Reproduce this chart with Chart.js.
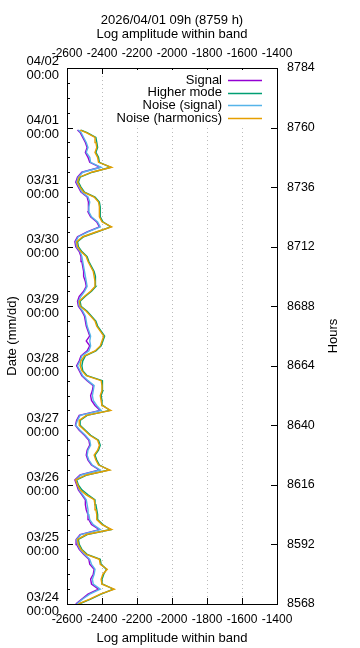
<!DOCTYPE html>
<html>
<head>
<meta charset="utf-8">
<script src="https://cdn.jsdelivr.net/npm/chart.js@4.4.1/dist/chart.umd.min.js"></script>
<style>
  body { margin: 0; background: #fff; }
  canvas { display: block; }
</style>
</head>
<body>
<canvas id="myChart" width="360" height="648"></canvas>
<script>
// hours of the year (y axis)
const hours = [8568, 8570, 8572, 8574, 8576, 8578, 8580, 8582, 8584, 8586,
  8588, 8590, 8592, 8594, 8596, 8598, 8600, 8602, 8604, 8606,
  8608, 8610, 8612, 8614, 8616, 8618, 8620, 8622, 8624, 8626,
  8628, 8630, 8632, 8634, 8636, 8638, 8640, 8642, 8644, 8646,
  8648, 8650, 8652, 8654, 8656, 8658, 8660, 8662, 8664, 8666,
  8668, 8670, 8672, 8674, 8676, 8678, 8680, 8682, 8684, 8686,
  8688, 8690, 8692, 8694, 8696, 8698, 8700, 8702, 8704, 8706,
  8708, 8710, 8712, 8714, 8716, 8718, 8720, 8722, 8724, 8726,
  8728, 8730, 8732, 8734, 8736, 8738, 8740, 8742, 8744, 8746,
  8748, 8750, 8752, 8754, 8756, 8758, 8759];

const signal = [-2550, -2515, -2480, -2420, -2460, -2465, -2450, -2445, -2470, -2475,
  -2505, -2530, -2545, -2548, -2525, -2415, -2460, -2475, -2480, -2490,
  -2495, -2495, -2515, -2535, -2545, -2555, -2525, -2415, -2460, -2480,
  -2490, -2485, -2470, -2475, -2500, -2530, -2552, -2545, -2530, -2410,
  -2440, -2460, -2465, -2455, -2450, -2485, -2515, -2530, -2545, -2530,
  -2520, -2485, -2470, -2490, -2470, -2480, -2490, -2495, -2500, -2515,
  -2535, -2540, -2530, -2505, -2490, -2495, -2505, -2505, -2510, -2515,
  -2520, -2530, -2550, -2555, -2540, -2485, -2415, -2430, -2465, -2480,
  -2480, -2475, -2485, -2520, -2535, -2550, -2540, -2515, -2410, -2470,
  -2480, -2495, -2485, -2495, -2510, -2525, -2540];

const higherMode = [-2530, -2465, -2405, -2335, -2395, -2400, -2390, -2375, -2405, -2410,
  -2485, -2515, -2530, -2535, -2485, -2350, -2395, -2425, -2425, -2430,
  -2435, -2440, -2480, -2515, -2535, -2545, -2485, -2360, -2415, -2430,
  -2440, -2420, -2410, -2420, -2465, -2495, -2525, -2525, -2485, -2355,
  -2395, -2400, -2405, -2395, -2395, -2400, -2485, -2510, -2515, -2510,
  -2495, -2435, -2405, -2395, -2385, -2405, -2425, -2435, -2460, -2485,
  -2520, -2525, -2495, -2460, -2435, -2435, -2440, -2445, -2460, -2475,
  -2485, -2515, -2535, -2540, -2505, -2425, -2350, -2395, -2410, -2410,
  -2410, -2415, -2440, -2500, -2520, -2535, -2525, -2455, -2350, -2415,
  -2420, -2435, -2425, -2430, -2435, -2485, -2520];

const noiseSignal = [-2545, -2510, -2470, -2410, -2450, -2455, -2445, -2440, -2460, -2470,
  -2500, -2525, -2540, -2545, -2520, -2410, -2450, -2470, -2475, -2480,
  -2485, -2490, -2510, -2530, -2540, -2550, -2520, -2410, -2455, -2475,
  -2485, -2480, -2465, -2470, -2495, -2525, -2550, -2540, -2525, -2405,
  -2430, -2450, -2455, -2450, -2445, -2480, -2510, -2525, -2540, -2525,
  -2515, -2475, -2465, -2470, -2465, -2475, -2485, -2490, -2495, -2510,
  -2530, -2535, -2520, -2500, -2485, -2490, -2495, -2500, -2505, -2510,
  -2515, -2525, -2545, -2550, -2535, -2480, -2410, -2425, -2460, -2475,
  -2475, -2470, -2480, -2515, -2530, -2545, -2535, -2510, -2405, -2465,
  -2470, -2490, -2480, -2490, -2505, -2520, -2535];

const noiseHarmonics = [-2535, -2470, -2410, -2330, -2400, -2405, -2395, -2370, -2410, -2415,
  -2490, -2520, -2535, -2540, -2490, -2345, -2400, -2430, -2430, -2435,
  -2440, -2445, -2490, -2525, -2540, -2550, -2490, -2355, -2420, -2435,
  -2445, -2425, -2415, -2425, -2470, -2500, -2530, -2530, -2490, -2350,
  -2400, -2405, -2410, -2400, -2400, -2405, -2490, -2515, -2525, -2520,
  -2500, -2440, -2410, -2400, -2390, -2410, -2430, -2440, -2465, -2490,
  -2525, -2530, -2500, -2465, -2440, -2440, -2445, -2450, -2465, -2480,
  -2490, -2520, -2540, -2545, -2510, -2430, -2345, -2400, -2415, -2415,
  -2415, -2420, -2445, -2505, -2525, -2540, -2530, -2460, -2345, -2420,
  -2425, -2440, -2430, -2435, -2440, -2490, -2525];

const seriesNames = ["Signal", "Higher mode", "Noise (signal)", "Noise (harmonics)"];
const seriesColors = ["#9400d3", "#009e73", "#56b4e9", "#e69f00"];
const xTicks = [-2600, -2400, -2200, -2000, -1800, -1600, -1400];
const hourTicks = [8568, 8592, 8616, 8640, 8664, 8688, 8712, 8736, 8760, 8784];
const dateTicks = ["03/24", "03/25", "03/26", "03/27", "03/28", "03/29", "03/30", "03/31", "04/01", "04/02"];
const titleText = "2026/04/01 09h (8759 h)";
const xTitle = "Log amplitude within band";

Chart.defaults.font.family = "'Liberation Sans', Arial, sans-serif";
Chart.defaults.font.size = 13;
Chart.defaults.color = "#000";

const allSeries = [signal, higherMode, noiseSignal, noiseHarmonics];
const datasets = allSeries.map((vals, i) => ({
  label: seriesNames[i],
  data: vals.map((v, k) => ({ x: v, y: hours[k] })),
  borderColor: seriesColors[i],
  borderWidth: 1.4,
  pointRadius: 0,
  showLine: true,
  fill: false,
  tension: 0,
  order: 3 - i, // later series on top, like gnuplot
}));

// gnuplot style: box, inward ticks, opaque key, y2 label
const frame = {
  id: "frame",
  afterDatasetsDraw(chart) {
    const ctx = chart.ctx;
    const a = chart.chartArea;
    const sx = chart.scales.x, sy = chart.scales.y;
    ctx.save();
    ctx.strokeStyle = "#000";
    ctx.lineWidth = 1;
    ctx.beginPath();
    xTicks.forEach(v => {
      const px = Math.round(sx.getPixelForValue(v)) + 0.5;
      ctx.moveTo(px, a.bottom); ctx.lineTo(px, a.bottom - 6);
      ctx.moveTo(px, a.top); ctx.lineTo(px, a.top + 6);
    });
    for (let h = hourTicks[0]; h <= hourTicks[hourTicks.length - 1]; h += 6) {
      const py = Math.round(sy.getPixelForValue(h)) + 0.5;
      const len = (h - hourTicks[0]) % 24 === 0 ? 6 : 3;
      ctx.moveTo(a.left, py); ctx.lineTo(a.left + len, py);
      if (len === 6) { ctx.moveTo(a.right, py); ctx.lineTo(a.right - 6, py); }
    }
    ctx.stroke();

    // key
    ctx.fillStyle = "#fff";
    ctx.fillRect(114, a.top + 2, a.right - 116, 56);
    ctx.font = "13px 'Liberation Sans', Arial, sans-serif";
    ctx.textAlign = "right";
    ctx.textBaseline = "middle";
    seriesNames.forEach((name, i) => {
      const y = a.top + 12 + i * 12.7;
      ctx.fillStyle = "#000";
      ctx.fillText(name, 222, y);
      ctx.strokeStyle = seriesColors[i];
      ctx.lineWidth = 1.3;
      ctx.beginPath();
      ctx.moveTo(228, Math.round(y) + 0.5);
      ctx.lineTo(262, Math.round(y) + 0.5);
      ctx.stroke();
    });

    ctx.strokeStyle = "#000";
    ctx.lineWidth = 1;
    ctx.strokeRect(Math.round(a.left) + 0.5, Math.round(a.top) + 0.5,
      Math.round(a.right - a.left), Math.round(a.bottom - a.top));

    ctx.translate(333, (a.top + a.bottom) / 2);
    ctx.rotate(-Math.PI / 2);
    ctx.textAlign = "center";
    ctx.fillStyle = "#000";
    ctx.fillText("Hours", 0, 0);
    ctx.restore();
  },
};

const numLabel = v => String(v);
const tickFont = { size: 12 };

new Chart(document.getElementById("myChart"), {
  type: "scatter",
  data: { datasets: datasets },
  options: {
    responsive: false,
    animation: false,
    devicePixelRatio: 1,
    layout: { padding: 0 },
    plugins: { legend: { display: false }, tooltip: { enabled: false } },
    scales: {
      x: {
        position: "bottom",
        min: -2600, max: -1400,
        afterBuildTicks: s => { s.ticks = xTicks.map(v => ({ value: v })); },
        ticks: { callback: numLabel, padding: 8, maxRotation: 0, autoSkip: false, font: tickFont },
        grid: { color: "#bbb", drawTicks: false },
        border: { display: false, dash: [1, 3] },
        title: { display: true, text: xTitle, padding: { top: 0, bottom: 2 } },
        afterFit: s => { s.height = 44; },
      },
      x2: {
        axis: "x",
        position: "top",
        min: -2600, max: -1400,
        afterBuildTicks: s => { s.ticks = xTicks.map(v => ({ value: v })); },
        ticks: { callback: numLabel, padding: 7, maxRotation: 0, autoSkip: false, font: tickFont },
        grid: { display: false, drawTicks: false },
        border: { display: false },
        title: {
          display: true,
          text: [titleText, xTitle],
          font: { lineHeight: 1.05 },
          padding: { top: 14, bottom: 0 },
        },
        afterFit: s => { s.height = 68; },
      },
      y: {
        position: "left",
        min: 8568, max: 8784,
        afterBuildTicks: s => { s.ticks = hourTicks.map(v => ({ value: v })); },
        ticks: {
          padding: 8,
          autoSkip: false,
          font: { size: 13, lineHeight: 1.08 },
          callback: (v, i) => [dateTicks[i], "00:00"],
        },
        grid: { display: false, drawTicks: false },
        border: { display: false },
        title: { display: true, text: "Date (mm/dd)", padding: { top: 5, bottom: 0 } },
        afterFit: s => { s.width = 67; },
      },
      y2: {
        axis: "y",
        position: "right",
        min: 8568, max: 8784,
        afterBuildTicks: s => { s.ticks = hourTicks.map(v => ({ value: v })); },
        ticks: { callback: numLabel, padding: 10, autoSkip: false, font: { size: 12.5 } },
        grid: { display: false, drawTicks: false },
        border: { display: false },
        afterFit: s => { s.width = 83; },
      },
    },
  },
  plugins: [frame],
});
</script>
</body>
</html>
